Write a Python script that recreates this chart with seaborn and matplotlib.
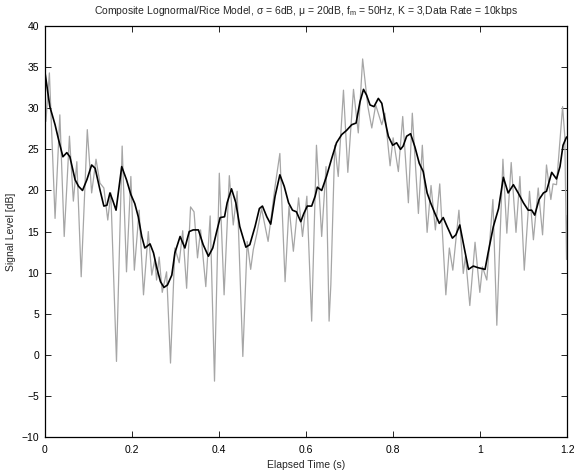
import numpy as np
import pandas as pd
import matplotlib
matplotlib.use("Agg")
import matplotlib.pyplot as plt
import seaborn as sns

# Fast-fading (Rice) envelope in dB
fading_t = [0.000, 0.003, 0.011, 0.024, 0.035, 0.045, 0.057, 0.066, 0.074, 0.084,
            0.098, 0.108, 0.118, 0.127, 0.136, 0.145, 0.152, 0.165, 0.178, 0.188,
            0.198, 0.206, 0.217, 0.227, 0.238, 0.246, 0.253, 0.257, 0.263, 0.270,
            0.280, 0.289, 0.299, 0.309, 0.317, 0.326, 0.335, 0.343, 0.351, 0.358,
            0.370, 0.380, 0.390, 0.401, 0.412, 0.424, 0.433, 0.442, 0.455, 0.465,
            0.473, 0.479, 0.487, 0.498, 0.513, 0.529, 0.540, 0.552, 0.561, 0.571,
            0.583, 0.592, 0.602, 0.613, 0.624, 0.636, 0.646, 0.653, 0.657, 0.666,
            0.674, 0.686, 0.696, 0.709, 0.720, 0.730, 0.742, 0.751, 0.760, 0.774,
            0.781, 0.793, 0.800, 0.812, 0.822, 0.835, 0.844, 0.858, 0.867, 0.878,
            0.887, 0.897, 0.907, 0.921, 0.929, 0.937, 0.951, 0.961, 0.966, 0.976,
            0.988, 0.999, 1.005, 1.015, 1.029, 1.038, 1.052, 1.061, 1.071, 1.082,
            1.091, 1.101, 1.113, 1.122, 1.133, 1.143, 1.152, 1.162, 1.167, 1.175,
            1.189, 1.194, 1.198, 1.200]
fading_db = [34.5, 28.4, 34.3, 16.6, 29.2, 14.4, 26.6, 18.7, 23.5, 9.5,
             27.4, 19.7, 23.8, 20.9, 20.3, 16.4, 19.7, -0.8, 25.4, 10.1,
             21.7, 10.3, 17.6, 7.3, 15.0, 9.7, 11.6, 9.1, 11.9, 7.6,
             10.1, -1.0, 13.0, 11.2, 15.1, 8.1, 18.0, 17.4, 11.8, 15.2,
             8.3, 16.9, -3.2, 22.1, 7.3, 21.8, 15.8, 19.9, -0.2, 13.8,
             10.4, 12.8, 14.7, 17.8, 13.8, 20.5, 24.5, 8.9, 18.1, 12.6,
             19.1, 14.4, 19.3, 4.1, 25.5, 14.4, 22.9, 4.1, 8.5, 25.5,
             21.7, 32.2, 22.2, 32.3, 27.0, 36.0, 30.2, 27.6, 30.4, 28.0,
             29.4, 23.0, 26.4, 22.3, 29.0, 18.5, 29.4, 17.2, 25.5, 14.9,
             20.6, 15.2, 20.8, 7.3, 13.0, 10.3, 17.6, 9.9, 12.0, 6.0,
             13.7, 7.6, 10.7, 9.1, 18.9, 3.6, 23.8, 14.8, 23.4, 14.9,
             21.7, 10.3, 19.9, 14.0, 20.3, 14.6, 23.1, 18.9, 20.8, 20.7,
             30.2, 26.6, 11.6, 17.0]

# Local mean (lognormal shadowing) in dB
mean_t = [0.000, 0.012, 0.024, 0.032, 0.042, 0.051, 0.058, 0.070, 0.078, 0.087,
          0.097, 0.108, 0.116, 0.127, 0.136, 0.143, 0.150, 0.157, 0.164, 0.177,
          0.188, 0.198, 0.207, 0.215, 0.223, 0.230, 0.242, 0.250, 0.257, 0.266,
          0.274, 0.282, 0.292, 0.299, 0.311, 0.322, 0.332, 0.341, 0.353, 0.364,
          0.376, 0.386, 0.395, 0.403, 0.413, 0.419, 0.429, 0.439, 0.448, 0.462,
          0.471, 0.483, 0.493, 0.500, 0.510, 0.519, 0.529, 0.540, 0.550, 0.560,
          0.569, 0.578, 0.588, 0.595, 0.603, 0.613, 0.621, 0.626, 0.636, 0.647,
          0.659, 0.670, 0.682, 0.693, 0.705, 0.715, 0.724, 0.732, 0.739, 0.747,
          0.756, 0.766, 0.774, 0.781, 0.789, 0.799, 0.808, 0.817, 0.823, 0.831,
          0.840, 0.850, 0.860, 0.869, 0.878, 0.886, 0.896, 0.906, 0.915, 0.924,
          0.936, 0.944, 0.953, 0.961, 0.973, 0.984, 0.995, 1.011, 1.018, 1.030,
          1.042, 1.053, 1.064, 1.076, 1.087, 1.099, 1.110, 1.118, 1.125, 1.135,
          1.145, 1.152, 1.164, 1.175, 1.183, 1.190, 1.198]
mean_db = [34.7, 30.2, 28.0, 26.2, 24.1, 24.6, 24.1, 21.3, 20.5, 20.0,
           21.3, 23.1, 22.7, 20.1, 18.1, 18.2, 19.7, 18.7, 17.6, 22.9,
           21.3, 19.5, 18.4, 16.8, 14.4, 13.0, 13.5, 12.4, 10.7, 8.9,
           8.2, 8.5, 9.7, 12.4, 14.4, 13.0, 15.0, 15.2, 15.2, 13.4,
           12.0, 13.0, 15.0, 16.7, 16.8, 18.5, 20.2, 18.5, 15.6, 13.1,
           13.4, 15.6, 17.8, 18.1, 16.8, 15.9, 19.3, 21.9, 20.5, 18.5,
           17.6, 17.4, 16.2, 17.2, 18.1, 18.1, 19.3, 20.4, 20.0, 21.7,
           23.9, 25.8, 26.8, 27.3, 28.0, 28.2, 30.8, 32.3, 31.6, 30.4,
           30.2, 31.2, 30.6, 28.6, 26.6, 25.5, 25.8, 25.0, 25.4, 26.6,
           26.9, 25.3, 23.3, 22.3, 19.7, 18.5, 17.2, 16.0, 16.7, 15.6,
           14.2, 14.6, 15.8, 13.6, 10.4, 10.8, 10.6, 10.4, 12.4, 15.6,
           17.8, 21.6, 19.7, 20.7, 19.7, 18.5, 17.6, 17.6, 17.0, 18.9,
           19.7, 19.9, 22.2, 21.4, 22.9, 25.5, 26.5]

x_ticks = [0, 0.2, 0.4, 0.6, 0.8, 1.0, 1.2]
x_tick_labels = ["0", "0.2", "0.4", "0.6", "0.8", "1", "1.2"]
y_ticks = [-10, -5, 0, 5, 10, 15, 20, 25, 30, 35, 40]
y_tick_labels = ["\u221210", "\u22125", "0", "5", "10", "15", "20", "25", "30", "35", "40"]

sns.set_style("white")
plt.rcParams["font.family"] = ["Liberation Sans", "DejaVu Sans"]
plt.rcParams["mathtext.fontset"] = "custom"
plt.rcParams["mathtext.rm"] = "Liberation Sans"
plt.rcParams["mathtext.it"] = "Liberation Sans"

fading = pd.DataFrame({"t": fading_t, "db": fading_db})
mean = pd.DataFrame({"t": mean_t, "db": mean_db})

fig = plt.figure(figsize=(5.74, 4.74), dpi=100)
ax = fig.add_axes([0.0777, 0.078, 0.9108, 0.867])

sns.lineplot(data=fading, x="t", y="db", ax=ax, color="#a6a6a6", lw=0.9,
             estimator=None, sort=False)
sns.lineplot(data=mean, x="t", y="db", ax=ax, color="black", lw=1.2,
             estimator=None, sort=False)

ax.set_xlim(0, 1.2)
ax.set_ylim(-10, 40)
ax.set_xticks(x_ticks)
ax.set_xticklabels(x_tick_labels)
ax.set_yticks(y_ticks)
ax.set_yticklabels(y_tick_labels)
ax.tick_params(direction="in", length=4, width=0.6, labelsize=7.5,
               bottom=True, left=True, top=True, right=True, colors="black")
ax.tick_params(axis="x", pad=6)
ax.tick_params(axis="y", pad=4)
for s in ax.spines.values():
    s.set_linewidth(0.9)
    s.set_color("black")

ax.set_xlabel("Elapsed Time (s)", fontsize=7.5, labelpad=3)
ax.set_ylabel("Signal Level [dB]", fontsize=7.5, labelpad=4)
ax.set_title("Composite Lognormal/Rice Model, \u03c3 = 6dB, \u03bc = 20dB, "
             "f$_\\mathregular{m}$ = 50Hz, K = 3,Data Rate = 10kbps",
             fontsize=7.5, pad=9)

fig.savefig("out.png", dpi=100)
